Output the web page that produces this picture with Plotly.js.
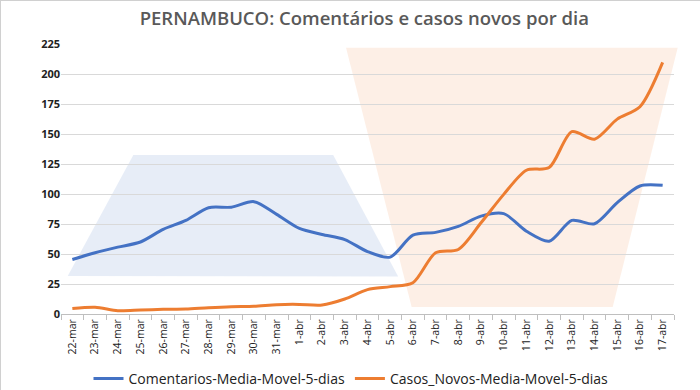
<!DOCTYPE html>
<html><head><meta charset="utf-8">
<script src="https://cdn.plot.ly/plotly-3.0.1.min.js"></script>
<style>html,body{margin:0;padding:0;background:#fff}#chart{width:700px;height:390px;box-sizing:border-box;border:1px solid #d0d0d0}</style>
</head><body><div id="chart"></div>
<script>
const categories = ["22-mar","23-mar","24-mar","25-mar","26-mar","27-mar","28-mar","29-mar","30-mar","31-mar","1-abr","2-abr","3-abr","4-abr","5-abr","6-abr","7-abr","8-abr","9-abr","10-abr","11-abr","12-abr","13-abr","14-abr","15-abr","16-abr","17-abr"];
const comentarios = [45.4,51,55.7,60,70.5,78,88.6,89,93.6,83,71.3,66.3,62,52,47.4,65.7,68,73,81.6,83.6,69,60.7,78,75.2,92.8,106.7,107.2];
const casosNovos = [4.5,5.6,2.8,3.3,3.9,4.2,5.3,6.1,6.4,7.8,8,7.5,12.5,20.3,22.8,26,51,53.8,76,99.7,119.8,122,152,145.7,162.4,172.7,209.7];
const yTicks = [0,25,50,75,100,125,150,175,200,225];
const seriesNames = ["Comentarios-Media-Movel-5-dias","Casos_Novos-Media-Movel-5-dias"];

const font = "Open Sans, Liberation Sans, sans-serif";
const data = [
  {x: categories, y: comentarios, name: seriesNames[0], type: "scatter", mode: "lines",
   line: {color: "#4472C4", width: 3, shape: "spline", smoothing: 0.8}},
  {x: categories, y: casosNovos, name: seriesNames[1], type: "scatter", mode: "lines",
   line: {color: "#ED7D31", width: 3, shape: "spline", smoothing: 0.8}}
];
const layout = {
  width: 700, height: 390,
  margin: {l: 60, r: 27, t: 43, b: 77},
  paper_bgcolor: "#fff", plot_bgcolor: "#fff",
  title: {text: "PERNAMBUCO: Comentários e casos novos por dia", x: 0.519, xanchor: "center", y: 0.955, yanchor: "middle",
          font: {family: font, size: 18.5, color: "#595959", weight: 600}},
  xaxis: {type: "category", tickangle: -90, tickson: "boundaries", ticks: "outside", ticklen: 5, tickcolor: "#bfbfbf",
          showline: true, linecolor: "#bfbfbf", linewidth: 1, showgrid: false, range: [-0.5, 26.5], automargin: false,
          tickfont: {family: font, size: 10.5, color: "#222"}},
  yaxis: {range: [0, 225], tickvals: yTicks, showgrid: true, gridcolor: "#d9d9d9", gridwidth: 1, zeroline: false,
          showline: false, ticks: "", ticklen: 0, automargin: false,
          tickfont: {family: font, size: 11, color: "#222", weight: 700}},
  showlegend: true,
  legend: {orientation: "h", x: 0.5, xref: "container", xanchor: "center", y: 0.031, yref: "container", yanchor: "middle",
           font: {family: font, size: 14, color: "#222"}},
  shapes: [
    {type: "path", xref: "paper", yref: "paper", layer: "below", line: {width: 0},
     fillcolor: "rgba(68,114,196,0.13)",
     path: "M 0.011 0.141 L 0.118 0.589 L 0.444 0.589 L 0.550 0.139 Z"},
    {type: "path", xref: "paper", yref: "paper", layer: "below", line: {width: 0},
     fillcolor: "rgba(237,125,49,0.12)",
     path: "M 0.465 0.986 L 1.006 0.986 L 0.900 0.026 L 0.572 0.026 Z"}
  ]
};
Plotly.newPlot("chart", data, layout, {displayModeBar: false, staticPlot: true});
</script></body></html>
